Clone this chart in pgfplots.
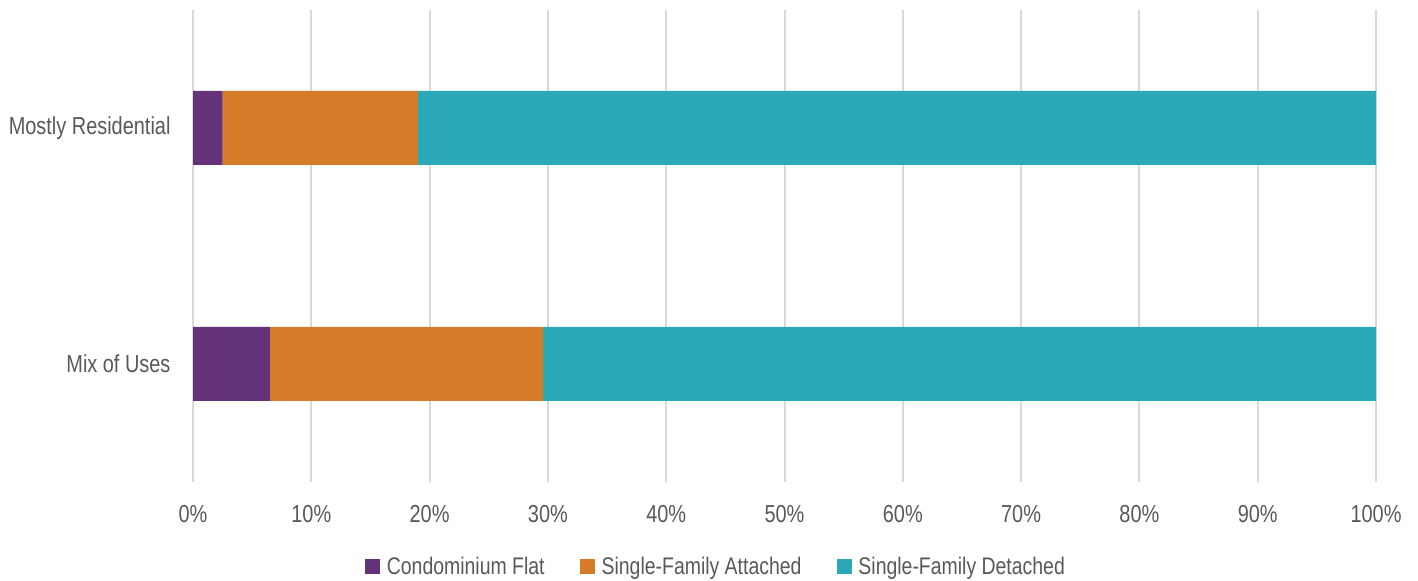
\documentclass[border=0pt]{standalone}
\usepackage{pgfplots}
\pgfplotsset{compat=1.18}
\usepackage{fontspec}
\setmainfont{Liberation Sans}[FakeStretch=0.81]
\definecolor{cpurple}{RGB}{99,50,120}
\definecolor{corange}{RGB}{214,124,40}
\definecolor{cteal}{RGB}{43,169,184}
\definecolor{ctext}{RGB}{89,89,89}
\definecolor{cgrid}{RGB}{217,217,217}
\begin{document}
\begin{tikzpicture}
\path (0,0) rectangle (1418bp,580bp);
\begin{axis}[
  at={(193bp,98bp)}, anchor=south west,
  scale only axis, width=1183bp, height=472bp,
  xbar stacked, bar width=74bp,
  xmin=0, xmax=100, ymin=-0.5, ymax=1.5,
  xtick={0,10,...,100},
  xticklabel={\pgfmathprintnumber{\tick}\%},
  ytick={0,1}, yticklabels={Mix of Uses, Mostly Residential},
  axis line style={draw=none},
  major tick length=0pt,
  xmajorgrids, major grid style={cgrid, line width=2bp},
  /pgf/number format/assume math mode=true,
  tick label style={font=\fontsize{24.6bp}{28bp}\selectfont, text=ctext},
  xticklabel style={yshift=-20bp},
  yticklabel style={xshift=-19bp},
  legend style={at={(rel axis cs:0.442,0)}, anchor=north, yshift=-71bp, draw=none,
    font=\fontsize{24bp}{28bp}\selectfont, text=ctext, column sep=5bp,
    /tikz/every even column/.append style={column sep=33bp}},
  legend columns=3,
  legend image code/.code={\fill[#1,draw=none] (0bp,-7.5bp) rectangle (15bp,7.5bp);},
]
\addplot[fill=cpurple, draw=none] coordinates {(6.5,0) (2.5,1)};
\addplot[fill=corange, draw=none] coordinates {(23.1,0) (16.5,1)};
\addplot[fill=cteal, draw=none] coordinates {(70.4,0) (81.0,1)};
\legend{Condominium Flat, Single-Family Attached, Single-Family Detached}
\end{axis}
\end{tikzpicture}
\end{document}
